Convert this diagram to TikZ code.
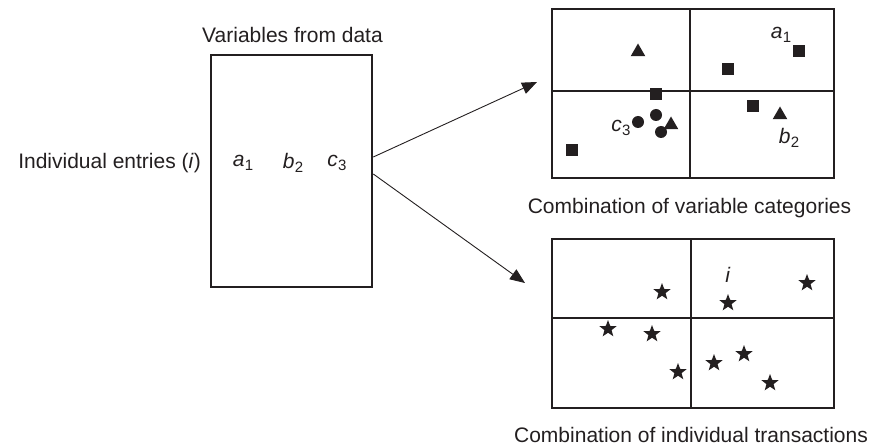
\documentclass[tikz,border=0pt]{standalone}
\usepackage{fontspec}
\setmainfont{Liberation Sans}
\usetikzlibrary{shapes.geometric,arrows.meta}
\definecolor{ink}{HTML}{231F20}
\newcommand\subn[1]{\raisebox{-0.35ex}{\fontsize{15}{15}\selectfont #1}}
\newcommand\var[2]{\textit{#1}\kern0.3pt\subn{#2}}
\begin{document}
\begin{tikzpicture}[x=1pt,y=-1pt,
  lbl/.style={font=\fontsize{21}{25}\selectfont, text=ink, inner sep=0pt},
  panel/.style={draw=ink, line width=2.6pt, rectangle, inner sep=0pt},
  divider/.style={draw=ink, line width=1.4pt},
  sq/.style={fill=ink, rectangle, minimum size=12.5pt, inner sep=0pt},
  dot/.style={fill=ink, circle, minimum size=12pt, inner sep=0pt},
  tri/.style={fill=ink, regular polygon, regular polygon sides=3, minimum size=17pt, inner sep=0pt},
  st/.style={fill=ink, star, star points=5, star point ratio=2.4, minimum size=18pt, inner sep=0pt},
  arr/.style={draw=ink, line width=0.9pt, -{Triangle[length=15pt,width=12pt]}}
]
\useasboundingbox (0,0) rectangle (872,446);

% left data box
\node[panel, minimum width=161pt, minimum height=232pt] (data) at (291.5,171) {};
\node[lbl] (vtitle) at (292.5,35) {Variables from data};
\node[lbl, anchor=east] (indiv) at (201,163) {Individual entries (\textit{i})};
\node[lbl] (va) at (243,163) {\var{a}{1}};
\node[lbl] (vb) at (293,163) {\var{b}{2}};
\node[lbl] (vc) at (337,163) {\var{c}{3}};

% top right panel
\node[panel, minimum width=282pt, minimum height=169pt] (cats) at (693,93.5) {};
\draw[divider, line width=1.1pt] (690,9) -- (690,178);
\draw[divider, line width=1.8pt] (552,91) -- (834,91);
\node[lbl] (cattitle) at (689.5,208) {Combination of variable categories};

\node[tri] (t1) at (638,52) {};
\node[sq] (s1) at (799,51) {};
\node[sq] (s2) at (728,69) {};
\node[sq] (s3) at (656,94) {};
\node[sq] (s4) at (753,106) {};
\node[sq] (s5) at (572,150) {};
\node[tri] (t2) at (780,115) {};
\node[tri] (t3) at (671,125) {};
\node[dot] (d1) at (638,122) {};
\node[dot] (d2) at (656,115) {};
\node[dot] (d3) at (661,132) {};
\node[lbl] (la) at (781,35) {\var{a}{1}};
\node[lbl] (lb) at (789,138) {\var{b}{2}};
\node[lbl] (lc) at (621,128) {\var{c}{3}};

% bottom right panel
\node[panel, minimum width=282pt, minimum height=169pt] (trans) at (693,323.5) {};
\draw[divider, line width=1.8pt] (691,239) -- (691,408);
\draw[divider, line width=1.8pt] (552,318) -- (834,318);
\node[lbl] (transtitle) at (691,435) {Combination of individual transactions};

\node[st] (p1) at (662,292) {};
\node[st] (p2) at (728,303) {};
\node[st] (p3) at (807,283) {};
\node[st] (p4) at (608,329) {};
\node[st] (p5) at (652,334) {};
\node[st] (p6) at (678,372) {};
\node[st] (p7) at (714,363) {};
\node[st] (p8) at (744,354) {};
\node[st] (p9) at (770,383) {};
\node[lbl] (li) at (728,275) {\textit{i}};

% arrows
\coordinate (o1) at (data.east |- 0,157);
\coordinate (o2) at (data.east |- 0,174);
\coordinate (e1) at (537,82);
\coordinate (e2) at (525,283);
\draw[arr] (o1) -- (e1);
\draw[arr] (o2) -- (e2);
\end{tikzpicture}
\end{document}
